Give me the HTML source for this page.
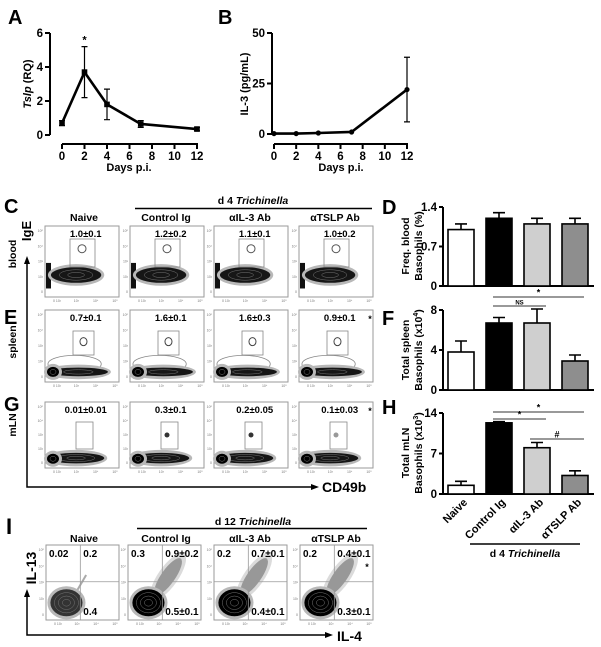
<!DOCTYPE html>
<html><head><meta charset="utf-8"><style>
html,body{margin:0;padding:0;background:#fff;}
svg{display:block;font-family:"Liberation Sans",Arial,sans-serif;}
.b{font-weight:bold;}
</style></head><body>
<svg id="fig" width="601" height="647" viewBox="0 0 601 647" xmlns="http://www.w3.org/2000/svg">
<!-- panel letters -->
<text x="8" y="24" font-size="20" class="b">A</text>
<text x="218" y="24" font-size="20" class="b">B</text>
<text x="4" y="213" font-size="20" class="b">C</text>
<text x="382" y="214" font-size="20" class="b">D</text>
<text x="4" y="324" font-size="20" class="b">E</text>
<text x="382" y="325" font-size="20" class="b">F</text>
<text x="4" y="411" font-size="20" class="b">G</text>
<text x="382" y="414" font-size="20" class="b">H</text>
<text x="6" y="534" font-size="22" class="b">I</text>

<!-- axis titles A / B -->
<text transform="translate(31,84) rotate(-90)" text-anchor="middle" font-size="11" class="b"><tspan font-style="italic">Tslp</tspan> (RQ)</text>
<text x="129" y="171" text-anchor="middle" font-size="11" class="b">Days p.i.</text>
<text transform="translate(248,84) rotate(-90)" text-anchor="middle" font-size="11" class="b">IL-3 (pg/mL)</text>
<text x="341" y="171" text-anchor="middle" font-size="11" class="b">Days p.i.</text>

<!-- C/E/G header -->
<text x="253" y="204" text-anchor="middle" font-size="10.5" class="b">d 4 <tspan font-style="italic">Trichinella</tspan></text>
<line x1="135" y1="208.5" x2="372" y2="208.5" stroke="#000" stroke-width="1.5"/>
<text x="84" y="221" text-anchor="middle" font-size="10.5" class="b">Naive</text>
<text x="166" y="221" text-anchor="middle" font-size="10.5" class="b">Control Ig</text>
<text x="250" y="221" text-anchor="middle" font-size="10.5" class="b">αIL-3 Ab</text>
<text x="335" y="221" text-anchor="middle" font-size="10.5" class="b">αTSLP Ab</text>
<text transform="translate(31,231) rotate(-90)" text-anchor="middle" font-size="13" class="b">IgE</text>
<text transform="translate(16,254) rotate(-90)" text-anchor="middle" font-size="10.5" class="b">blood</text>
<text transform="translate(16,342) rotate(-90)" text-anchor="middle" font-size="10.5" class="b">spleen</text>
<text transform="translate(16,425) rotate(-90)" text-anchor="middle" font-size="10.5" class="b">mLN</text>
<polyline points="27,262 27,487 312,487" fill="none" stroke="#000" stroke-width="1.5"/>
<polygon points="27,256 24,264 30,264" fill="#000"/>
<polygon points="319,487 311,484 311,490" fill="#000"/>
<text x="322" y="492" font-size="14" class="b">CD49b</text>

<!-- I header -->
<text x="253" y="525" text-anchor="middle" font-size="10.5" class="b">d 12 <tspan font-style="italic">Trichinella</tspan></text>
<line x1="137" y1="528.5" x2="367" y2="528.5" stroke="#000" stroke-width="1.5"/>
<text x="84" y="542" text-anchor="middle" font-size="10.5" class="b">Naive</text>
<text x="166" y="542" text-anchor="middle" font-size="10.5" class="b">Control Ig</text>
<text x="250" y="542" text-anchor="middle" font-size="10.5" class="b">αIL-3 Ab</text>
<text x="336" y="542" text-anchor="middle" font-size="10.5" class="b">αTSLP Ab</text>
<text transform="translate(36,568) rotate(-90)" text-anchor="middle" font-size="14" class="b">IL-13</text>
<polyline points="27,595 27,635 326,635" fill="none" stroke="#000" stroke-width="1.5"/>
<polygon points="27,589 24,597 30,597" fill="#000"/>
<polygon points="333,635 325,632 325,638" fill="#000"/>
<text x="337" y="641" font-size="14" class="b">IL-4</text>

<!-- bar chart titles -->
<text transform="translate(409,246) rotate(-90)" text-anchor="middle" font-size="10.5" class="b">Freq. blood</text>
<text transform="translate(422,246) rotate(-90)" text-anchor="middle" font-size="10.5" class="b">Basophils (%)</text>
<text transform="translate(409,350) rotate(-90)" text-anchor="middle" font-size="10.5" class="b">Total spleen</text>
<text transform="translate(422,350) rotate(-90)" text-anchor="middle" font-size="10.5" class="b">Basophils (x10<tspan font-size="7" dy="-4">4</tspan><tspan dy="4">)</tspan></text>
<text transform="translate(409,453) rotate(-90)" text-anchor="middle" font-size="10.5" class="b">Total mLN</text>
<text transform="translate(422,453) rotate(-90)" text-anchor="middle" font-size="10.5" class="b">Basophils (x10<tspan font-size="7" dy="-4">3</tspan><tspan dy="4">)</tspan></text>
<line x1="470" y1="544" x2="580" y2="544" stroke="#000" stroke-width="1.5"/>
<text x="525" y="557" text-anchor="middle" font-size="10.5" class="b">d 4 <tspan font-style="italic">Trichinella</tspan></text>
<g id="root"></g>
</svg>
<script>
// ---- data ----
const daysA = [0, 2, 4, 7, 12];
const tslpVals = [0.7, 3.7, 1.8, 0.65, 0.35];
const tslpErr = [0.15, 1.5, 0.9, 0.2, 0.1];
const tslpTicks = [0, 2, 4, 6];
const daysB = [0, 2, 4, 7, 12];
const il3Vals = [0.2, 0.2, 0.5, 1, 22];
const il3Err = [0, 0, 0, 0, 16];
const il3Ticks = [0, 25, 50];
const dayTicks = [0, 2, 4, 6, 8, 10, 12];
const barCats = ["Naive", "Control Ig", "αIL-3 Ab", "αTSLP Ab"];
const bloodFreq = [1.0, 1.2, 1.1, 1.1];
const bloodErr = [0.1, 0.1, 0.1, 0.1];
const bloodTicks = [0, 0.7, 1.4];
const spleenTotal = [3.8, 6.7, 6.7, 2.9];
const spleenErr = [1.1, 0.55, 1.4, 0.6];
const spleenTicks = [0, 4, 8];
const mlnTotal = [1.5, 12.3, 8.0, 3.2];
const mlnErr = [0.7, 0.2, 0.9, 0.8];
const mlnTicks = [0, 7, 14];
const bloodGate = ["1.0±0.1", "1.2±0.2", "1.1±0.1", "1.0±0.2"];
const spleenGate = ["0.7±0.1", "1.6±0.1", "1.6±0.3", "0.9±0.1"];
const mlnGate = ["0.01±0.01", "0.3±0.1", "0.2±0.05", "0.1±0.03"];
const il13ul = ["0.02", "0.3", "0.2", "0.2"];
const il13ur = ["0.2", "0.9±0.2", "0.7±0.1", "0.4±0.1"];
const il13lr = ["0.4", "0.5±0.1", "0.4±0.1", "0.3±0.1"];

const NS = "http://www.w3.org/2000/svg";
const root = document.getElementById("root");
function mk(tag, attrs, parent) {
  const e = document.createElementNS(NS, tag);
  for (const k in attrs) e.setAttribute(k, attrs[k]);
  (parent || root).appendChild(e);
  return e;
}
function txt(x, y, s, size, anchor, parent) {
  const t = mk("text", {x: x, y: y, "font-size": size, "font-weight": "bold", "text-anchor": anchor || "middle"}, parent);
  t.textContent = s;
  return t;
}

// ---- line charts ----
function lineChart(cfg) {
  const g = mk("g", {});
  
  
  const xs = d => cfg.x0 + d * (cfg.x1 - cfg.x0) / 12;
  const ys = v => cfg.y0 - v * (cfg.y0 - cfg.y1) / cfg.ymax;
  const ya = mk("line", {x1: cfg.ax, y1: ys(cfg.ymax), x2: cfg.ax, y2: ys(0), stroke: "#000", "stroke-width": 2}, g);
  
  
  cfg.yt.forEach(v => {
    mk("line", {x1: cfg.ax - 5, y1: ys(v), x2: cfg.ax, y2: ys(v), stroke: "#000", "stroke-width": 2}, g);
    const t = txt(cfg.ax - 7, ys(v) + 4, String(v), 11.5, "end", g);
    
    
  });
  const xa = mk("line", {x1: xs(0), y1: 144, x2: xs(12) + 1, y2: 144, stroke: "#000", "stroke-width": 2}, g);
  
  
  dayTicks.forEach(d => {
    mk("line", {x1: xs(d), y1: 144, x2: xs(d), y2: 149, stroke: "#000", "stroke-width": 2}, g);
    const t = txt(xs(d), 160, String(d), 11.5, "middle", g);
    
    
  });
  const pts = cfg.days.map((d, i) => xs(d) + "," + ys(cfg.vals[i])).join(" ");
  const pl = mk("polyline", {points: pts, fill: "none", stroke: "#000", "stroke-width": 2.6, "stroke-linejoin": "round"}, g);
  
  
  cfg.days.forEach((d, i) => {
    const x = xs(d), v = cfg.vals[i], e = cfg.err[i];
    if (e > 0) {
      const eb = mk("path", {d: `M${x},${ys(v + e)}V${ys(v - e)}M${x - 3},${ys(v + e)}H${x + 3}M${x - 3},${ys(v - e)}H${x + 3}`, stroke: "#000", "stroke-width": 1.2, fill: "none"}, g);
      
      
    }
    let m;
    if (cfg.square) m = mk("rect", {x: x - 2.8, y: ys(v) - 2.8, width: 5.6, height: 5.6, fill: "#000"}, g);
    else m = mk("circle", {cx: x, cy: ys(v), r: 2.6, fill: "#000"}, g);
    
    
  });
  return {g, xs, ys};
}
const A = lineChart({name: "tslp-line-chart", x0: 62, x1: 197, y0: 135, y1: 33, ymax: 6, ax: 50, yt: tslpTicks, days: daysA, vals: tslpVals, err: tslpErr, square: true});
const star = txt(A.xs(2), A.ys(tslpVals[1] + tslpErr[1]) - 3, "*", 11, "middle", A.g);


lineChart({name: "il3-line-chart", x0: 274, x1: 407, y0: 134, y1: 33, ymax: 50, ax: 272, yt: il3Ticks, days: daysB, vals: il3Vals, err: il3Err, square: false});

// ---- bar charts ----
const fills = ["#ffffff", "#000000", "#cfcfcf", "#8e8e8e"];
function barChart(cfg) {
  const g = mk("g", {});
  
  
  const ys = v => cfg.y0 - v * (cfg.y0 - cfg.y1) / cfg.ymax;
  const xl = i => 448 + i * 38;
  mk("line", {x1: 443, y1: ys(cfg.ymax), x2: 443, y2: ys(0) + 1, stroke: "#000", "stroke-width": 2}, g);
  mk("line", {x1: 443, y1: ys(0), x2: 594, y2: ys(0), stroke: "#000", "stroke-width": 2}, g);
  cfg.ticks.forEach(v => {
    mk("line", {x1: 439, y1: ys(v), x2: 443, y2: ys(v), stroke: "#000", "stroke-width": 2}, g);
    const t = txt(437, ys(v) + 4, String(v), 11.5, "end", g);
    
    
  });
  cfg.vals.forEach((v, i) => {
    const x = xl(i), e = cfg.err[i], cx = x + 13;
    const eb = mk("path", {d: `M${cx},${ys(v)}V${ys(v + e)}M${cx - 6},${ys(v + e)}H${cx + 6}`, stroke: "#000", "stroke-width": 1.6, fill: "none"}, g);
    
    
    const r = mk("rect", {x: x, y: ys(v), width: 26, height: ys(0) - ys(v), fill: fills[i], stroke: "#000", "stroke-width": 1.6}, g);
    
    
  });
  return {g, ys, xl};
}
barChart({name: "blood-basophil-bar-chart", y0: 286, y1: 207, ymax: 1.4, ticks: bloodTicks, vals: bloodFreq, err: bloodErr});
const F = barChart({name: "spleen-basophil-bar-chart", y0: 390, y1: 310, ymax: 8, ticks: spleenTicks, vals: spleenTotal, err: spleenErr});
const H = barChart({name: "mln-basophil-bar-chart", y0: 494, y1: 413, ymax: 14, ticks: mlnTicks, vals: mlnTotal, err: mlnErr});
function sig(x1, x2, y, s, parent, name) {
  const l = mk("line", {x1: x1, y1: y, x2: x2, y2: y, stroke: "#333", "stroke-width": 1}, parent);
  
  
  const t = txt((x1 + x2) / 2, y - 1.5, s, s === "NS" ? 6 : 9, "middle", parent);
  
  
}
sig(493, 584, 297, "*", F.g, "sig-control-vs-tslp-spleen");
sig(493, 546, 306, "NS", F.g, "sig-control-vs-il3-spleen");
sig(493, 584, 412, "*", H.g, "sig-control-vs-tslp-mln");
sig(493, 546, 419, "*", H.g, "sig-control-vs-il3-mln");
sig(530, 584, 439, "#", H.g, "sig-il3-vs-tslp-mln");
barCats.forEach((c, i) => {
  const cx = H.xl(i) + 20;
  const t = mk("text", {x: 0, y: 0, "font-size": 11, "font-weight": "bold", "text-anchor": "end", transform: `translate(${cx},503) rotate(-45)`}, H.g);
  t.textContent = c;
  
  
});

// ---- flow plots ----
const colsX = [45, 130, 214, 299];
const W = 74;
function frame(x, y, w, h, g) {
  mk("rect", {x: x, y: y, width: w, height: h, fill: "#fff", stroke: "#9a9a9a", "stroke-width": 1}, g);
  ["10⁵", "10⁴", "10³", "10²", "0"].forEach((s, i) => {
    mk("text", {x: x - 2, y: y + 6 + i * (h - 10) / 4, "font-size": 3.5, fill: "#777", "text-anchor": "end"}, g).textContent = s;
  });
  ["0 10²", "10³", "10⁴", "10⁵"].forEach((s, i) => {
    mk("text", {x: x + 12 + i * (w - 16) / 3, y: y + h + 5, "font-size": 3.5, fill: "#777", "text-anchor": "middle"}, g).textContent = s;
  });
}
function blob(cx, cy, rx, ry, g, n, dark) {
  mk("ellipse", {cx: cx, cy: cy, rx: rx + 3, ry: ry + 3, fill: "#b8b8b8"}, g);
  mk("ellipse", {cx: cx, cy: cy, rx: rx, ry: ry, fill: dark || "#161616"}, g);
  for (let k = 1; k <= n; k++) {
    mk("ellipse", {cx: cx, cy: cy, rx: rx * k / (n + 1), ry: ry * k / (n + 1), fill: "none", stroke: "#777", "stroke-width": 0.5}, g);
  }
}
const rows = [
  {y: 226, h: 71, labels: bloodGate, type: 0, name: "blood"},
  {y: 310, h: 72, labels: spleenGate, type: 1, name: "spleen"},
  {y: 402, h: 66, labels: mlnGate, type: 2, name: "mln"}
];
rows.forEach(r => {
  colsX.forEach((x, c) => {
    const g = mk("g", {});
    
    
    frame(x, r.y, W, r.h, g);
    const y = r.y, h = r.h;
    if (r.type === 0) {
      mk("rect", {x: x + 1, y: y + h * 0.52, width: 5, height: h * 0.36, fill: "#111"}, g);
      blob(x + W * 0.42, y + h * 0.69, W * 0.34, h * 0.11, g, 2);
      mk("ellipse", {cx: x + W * 0.5, cy: y + h * 0.32, rx: 4, ry: 4, fill: "none", stroke: "#555", "stroke-width": 1}, g);
      mk("rect", {x: x + 25, y: y + 13, width: 25, height: 28, fill: "none", stroke: "#888", "stroke-width": 0.8}, g);
    } else if (r.type === 1) {
      mk("ellipse", {cx: x + W * 0.4, cy: y + h * 0.75, rx: W * 0.36, ry: h * 0.12, fill: "none", stroke: "#888", "stroke-width": 0.8}, g);
      blob(x + W * 0.45, y + h * 0.86, W * 0.4, h * 0.06, g, 1);
      blob(x + 8, y + h * 0.86, 6, 5, g, 1, "#000");
      mk("ellipse", {cx: x + W * 0.52, cy: y + h * 0.44, rx: 3.5, ry: 4, fill: "none", stroke: "#444", "stroke-width": 1}, g);
      mk("rect", {x: x + 28, y: y + 21, width: 21, height: 24, fill: "none", stroke: "#888", "stroke-width": 0.8}, g);
    } else {
      blob(x + W * 0.42, y + h * 0.85, W * 0.38, h * 0.08, g, 2);
      blob(x + 8, y + h * 0.86, 6, 5, g, 1, "#000");
      if (c > 0) mk("circle", {cx: x + W * 0.5, cy: y + h * 0.5, r: 2.5, fill: c === 3 ? "#999" : "#333"}, g);
      mk("rect", {x: x + 31, y: y + 20, width: 17, height: 27, fill: "none", stroke: "#888", "stroke-width": 0.8}, g);
    }
    const t = txt(x + W * 0.55, y + 11, r.labels[c], 9.5, "middle", g);
    
    
    if (c === 3 && r.type > 0) {
      const s = txt(x + W - 3, y + 12, "*", 9, "middle", g);
      
      
    }
  });
});
// IL-4 / IL-13 plots
const iCols = [46, 128, 214, 300];
iCols.forEach((x, c) => {
  const y = 545, h = 75, w = 73;
  const g = mk("g", {});
  
  
  frame(x, y, w, h, g);
  if (c > 0) {
    mk("ellipse", {cx: x + w * 0.55, cy: y + h * 0.42, rx: w * 0.3, ry: 7, fill: "#444", opacity: 0.55, transform: `rotate(-55 ${x + w * 0.55} ${y + h * 0.42})`}, g);
    mk("ellipse", {cx: x + w * 0.55, cy: y + h * 0.42, rx: w * 0.38, ry: 10, fill: "#999", opacity: 0.35, transform: `rotate(-55 ${x + w * 0.55} ${y + h * 0.42})`}, g);
  } else {
    mk("line", {x1: x + w * 0.4, y1: y + h * 0.65, x2: x + w * 0.55, y2: y + h * 0.4, stroke: "#aaa", "stroke-width": 2}, g);
  }
  blob(x + w * 0.28, y + h * 0.77, w * 0.22, h * 0.18, g, 3, c > 0 ? "#000" : "#333");
  mk("line", {x1: x + w * 0.47, y1: y, x2: x + w * 0.47, y2: y + h, stroke: "#999", "stroke-width": 0.8}, g);
  mk("line", {x1: x, y1: y + h * 0.49, x2: x + w, y2: y + h * 0.49, stroke: "#999", "stroke-width": 0.8}, g);
  const a = txt(x + 3, y + 12, il13ul[c], 10, "start", g);
  
  
  const b = txt(x + w * 0.47 + 3, y + 12, il13ur[c], 10, "start", g);
  
  
  const d = txt(x + w * 0.47 + 3, y + h - 5, il13lr[c], 10, "start", g);
  
  
  if (c === 3) {
    const s = txt(x + w - 6, y + 25, "*", 9, "middle", g);
    
    
  }
});
</script>
</body></html>
